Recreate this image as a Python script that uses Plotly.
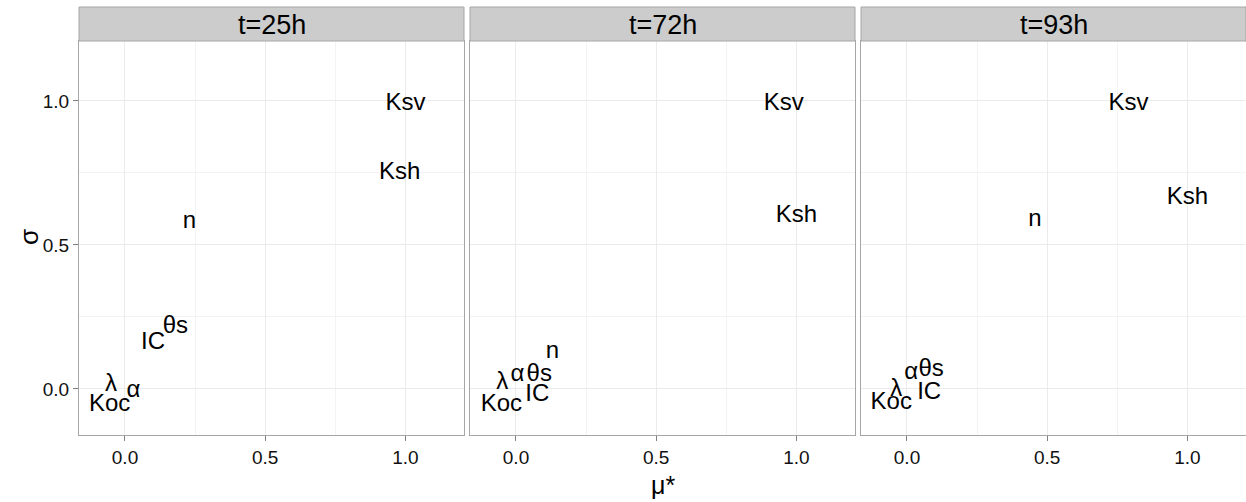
import plotly.graph_objects as go

W, H = 1246, 502

panels = ["t=25h", "t=72h", "t=93h"]
labels_25 = ["Ksv", "Ksh", "n", "IC", "θs", "λ", "α", "Koc"]
mu_25 = [1.00, 0.98, 0.23, 0.10, 0.18, -0.05, 0.03, -0.055]
sigma_25 = [0.99, 0.75, 0.58, 0.16, 0.215, 0.014, -0.007, -0.056]

labels_72 = ["Ksv", "Ksh", "n", "θs", "α", "λ", "IC", "Koc"]
mu_72 = [0.955, 1.00, 0.13, 0.083, 0.005, -0.049, 0.076, -0.052]
sigma_72 = [0.99, 0.60, 0.128, 0.049, 0.049, 0.021, -0.021, -0.056]

labels_93 = ["Ksv", "Ksh", "n", "θs", "α", "λ", "IC", "Koc"]
mu_93 = [0.79, 1.00, 0.456, 0.086, 0.015, -0.038, 0.079, -0.056]
sigma_93 = [0.99, 0.663, 0.587, 0.066, 0.056, -0.003, -0.014, -0.049]

data = [(labels_25, mu_25, sigma_25), (labels_72, mu_72, sigma_72), (labels_93, mu_93, sigma_93)]

x_ticks = [0.0, 0.5, 1.0]
x_ticklabels = ["0.0", "0.5", "1.0"]
y_ticks = [0.0, 0.5, 1.0]
y_ticklabels = ["0.0", "0.5", "1.0"]
x_range = [-0.164, 1.209]
y_range = [-0.16, 1.208]

FONT = "Liberation Sans, Arial, sans-serif"

# layout in pixels
L, R, T, B = 79, 0, 41, 67
plot_w = W - L - R
plot_h = H - T - B
gap = 6
pw = (plot_w - 2 * gap) / 3.0
strip_h = 34

fig = go.Figure()

for i, (lab, mx, sy) in enumerate(data):
    ax = "" if i == 0 else str(i + 1)
    fig.add_trace(go.Scatter(
        x=mx, y=sy, text=lab, mode="text",
        textfont=dict(family=FONT, size=24, color="black"),
        textposition="middle center",
        xaxis="x" + ax, yaxis="y" + ax, showlegend=False,
        cliponaxis=False, hoverinfo="skip",
    ))
    x0 = i * (pw + gap) / plot_w
    x1 = (i * (pw + gap) + pw) / plot_w
    xa = dict(
        domain=[x0, x1], range=x_range, tickvals=x_ticks, ticktext=x_ticklabels,
        showgrid=True, gridcolor="#EBEBEB", gridwidth=1,
        minor=dict(tickvals=[-0.25, 0.25, 0.75, 1.25], showgrid=True, gridcolor="#F3F3F3", gridwidth=1),
        zeroline=False, showline=True, linecolor="#A6A6A6", linewidth=1, mirror=True,
        ticks="outside", ticklen=5, tickcolor="#7F7F7F", tickwidth=1,
        tickfont=dict(family=FONT, size=19, color="#111111"),
        anchor="y" + ax, automargin=False,
    )
    ya = dict(
        domain=[0, 1], range=y_range, tickvals=y_ticks, ticktext=y_ticklabels,
        showgrid=True, gridcolor="#EBEBEB", gridwidth=1,
        minor=dict(tickvals=[-0.25, 0.25, 0.75, 1.25], showgrid=True, gridcolor="#F3F3F3", gridwidth=1),
        zeroline=False, showline=True, linecolor="#A6A6A6", linewidth=1, mirror=True,
        ticks="outside" if i == 0 else "", ticklen=5, tickcolor="#7F7F7F", tickwidth=1,
        showticklabels=(i == 0),
        tickfont=dict(family=FONT, size=19, color="#111111"),
        anchor="x" + ax, automargin=False,
    )
    if i > 0:
        ya["matches"] = "y"
    fig.layout["xaxis" + ax] = xa
    fig.layout["yaxis" + ax] = ya

    # strip
    fig.add_shape(type="rect", xref="paper", yref="paper",
                  x0=x0, x1=x1, y0=1, y1=1 + strip_h / plot_h,
                  fillcolor="#CCCCCC", line=dict(color="#A6A6A6", width=1), layer="above")
    fig.add_annotation(xref="paper", yref="paper", x=(x0 + x1) / 2, y=1 + (strip_h / 2 - 1) / plot_h,
                       text=panels[i], showarrow=False, xanchor="center", yanchor="middle",
                       font=dict(family=FONT, size=27, color="black"))

# axis titles
fig.add_annotation(xref="paper", yref="paper", x=0.5, y=-50 / plot_h, text="μ*",
                   showarrow=False, xanchor="center", yanchor="middle",
                   font=dict(family=FONT, size=25, color="black"))
fig.add_annotation(xref="paper", yref="paper", x=-50 / plot_w, y=(H - B - 237) / plot_h,
                   text="σ", showarrow=False, textangle=-90, xanchor="center", yanchor="middle",
                   font=dict(family=FONT, size=26, color="black"))

fig.update_layout(
    width=W, height=H,
    margin=dict(l=L, r=R, t=T, b=B, autoexpand=False),
    plot_bgcolor="white", paper_bgcolor="white",
    showlegend=False,
)

fig.write_html("out.html", config={"displayModeBar": False},
               post_script="document.body.style.margin='0';document.body.style.overflow='hidden';")
